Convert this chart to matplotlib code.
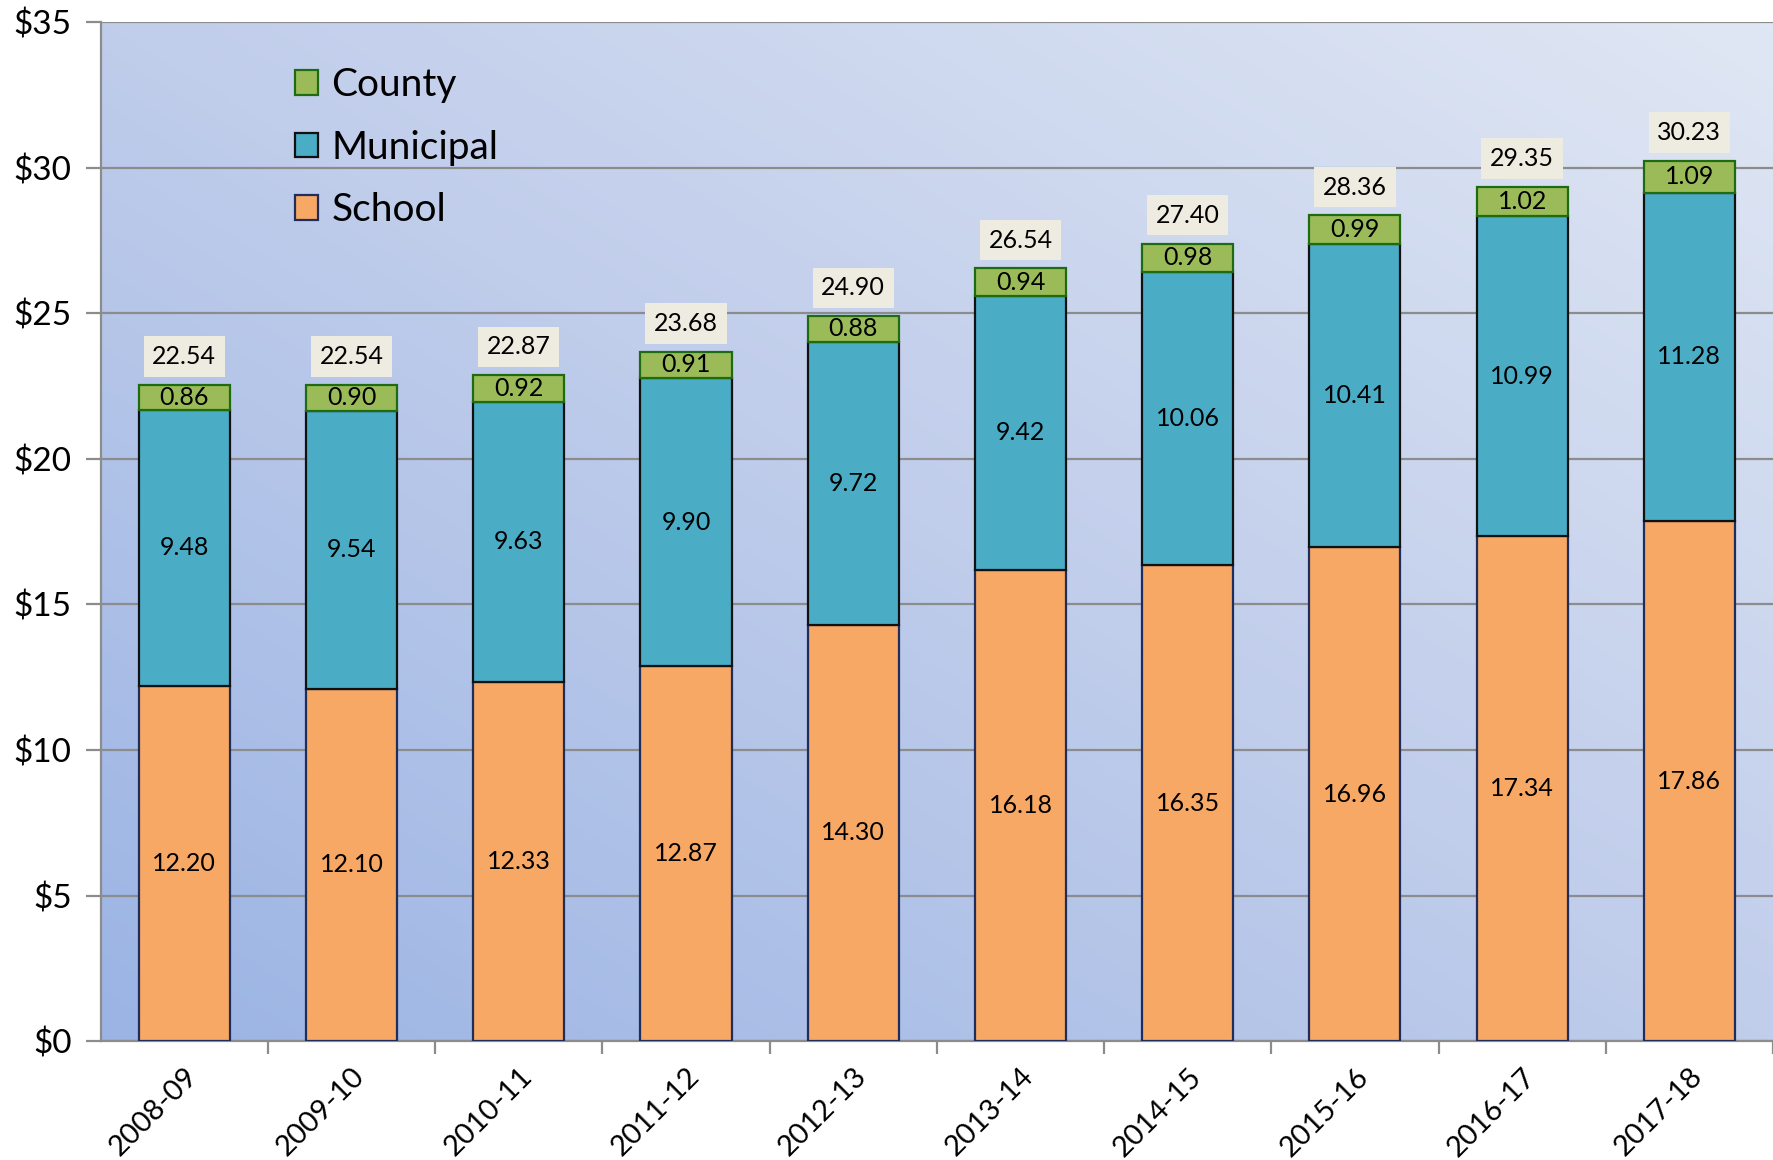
import matplotlib
matplotlib.use("Agg")
import matplotlib.pyplot as plt
from matplotlib.colors import LinearSegmentedColormap
from matplotlib.patches import Patch
import numpy as np

plt.rcParams['font.family'] = ['Lato', 'DejaVu Sans']

years = ['2008-09', '2009-10', '2010-11', '2011-12', '2012-13',
         '2013-14', '2014-15', '2015-16', '2016-17', '2017-18']
school = [12.20, 12.10, 12.33, 12.87, 14.30, 16.18, 16.35, 16.96, 17.34, 17.86]
municipal = [9.48, 9.54, 9.63, 9.90, 9.72, 9.42, 10.06, 10.41, 10.99, 11.28]
county = [0.86, 0.90, 0.92, 0.91, 0.88, 0.94, 0.98, 0.99, 1.02, 1.09]
totals = [22.54, 22.54, 22.87, 23.68, 24.90, 26.54, 27.40, 28.36, 29.35, 30.23]

fig = plt.figure(figsize=(17.73, 11.60), dpi=100)
ax = fig.add_axes([0.0568, 0.1025, 0.9432, 0.8785])

# diagonal gradient background
gx, gy = np.meshgrid(np.linspace(0, 1, 300), np.linspace(0, 1, 300))
grad = (gx + gy) / 2
cmap = LinearSegmentedColormap.from_list('bg', ['#9bb4e4', '#c0cdeb', '#e0e7f4'])
ax.imshow(grad, cmap=cmap, origin='lower', extent=[0, 1, 0, 1],
          transform=ax.transAxes, aspect='auto', zorder=0)

x = np.arange(len(years))
w = 0.545
school_arr = np.array(school)
mun_arr = np.array(municipal)

ax.bar(x, school, w, color='#f7a864', edgecolor='#1f2d5c', linewidth=1.6, zorder=3, label='School')
ax.bar(x, municipal, w, bottom=school_arr, color='#4bacc6', edgecolor='#111111',
       linewidth=1.6, zorder=3, label='Municipal')
ax.bar(x, county, w, bottom=school_arr + mun_arr, color='#9bbb59', edgecolor='#1e6b12',
       linewidth=1.6, zorder=3, label='County')

lab_fs = 18
for i in range(len(years)):
    ax.text(x[i], school[i] / 2, f'{school[i]:.2f}', ha='center', va='center', fontsize=lab_fs, zorder=4)
    ax.text(x[i], school[i] + municipal[i] / 2, f'{municipal[i]:.2f}', ha='center', va='center',
            fontsize=lab_fs, zorder=4)
    ax.text(x[i], school[i] + municipal[i] + county[i] / 2, f'{county[i]:.2f}', ha='center',
            va='center', fontsize=lab_fs, zorder=4)
    ax.text(x[i], totals[i] + 0.97, f'{totals[i]:.2f}', ha='center', va='center', fontsize=lab_fs,
            zorder=4, bbox=dict(boxstyle='square,pad=0.35', facecolor='#eeece1', edgecolor='none'))

ax.set_xlim(-0.5, len(years) - 0.5)
ax.set_ylim(0, 35)
ax.set_yticks(range(0, 36, 5))
ax.set_yticklabels([f'${v}' for v in range(0, 36, 5)], fontsize=24)
ax.yaxis.grid(True, color='#8c8c8c', linewidth=1.6, zorder=1)
ax.set_axisbelow(True)

ax.set_xticks(x)
ax.set_xticklabels(years, fontsize=21, rotation=45, ha='right', rotation_mode='anchor')
ax.set_xticks(np.arange(len(years)) + 0.5, minor=True)
ax.tick_params(axis='x', which='major', length=0, pad=16)
ax.tick_params(axis='x', which='minor', length=9, width=1.6, color='#8c8c8c')
ax.tick_params(axis='y', length=11, width=1.6, color='#8c8c8c', pad=10)

for side in ['top', 'right']:
    ax.spines[side].set_visible(False)
for side in ['left', 'bottom']:
    ax.spines[side].set_color('#8c8c8c')
    ax.spines[side].set_linewidth(1.6)

handles = [Patch(facecolor='#9bbb59', edgecolor='#1e6b12', linewidth=1.6),
           Patch(facecolor='#4bacc6', edgecolor='#111111', linewidth=1.6),
           Patch(facecolor='#f7a864', edgecolor='#1f2d5c', linewidth=1.6)]
ax.legend(handles, ['County', 'Municipal', 'School'], loc='upper left',
          bbox_to_anchor=(0.095, 0.99), frameon=False, fontsize=28,
          handlelength=0.6, handleheight=0.6, handletextpad=0.35, labelspacing=0.68)

fig.savefig('out.png', dpi=100)
